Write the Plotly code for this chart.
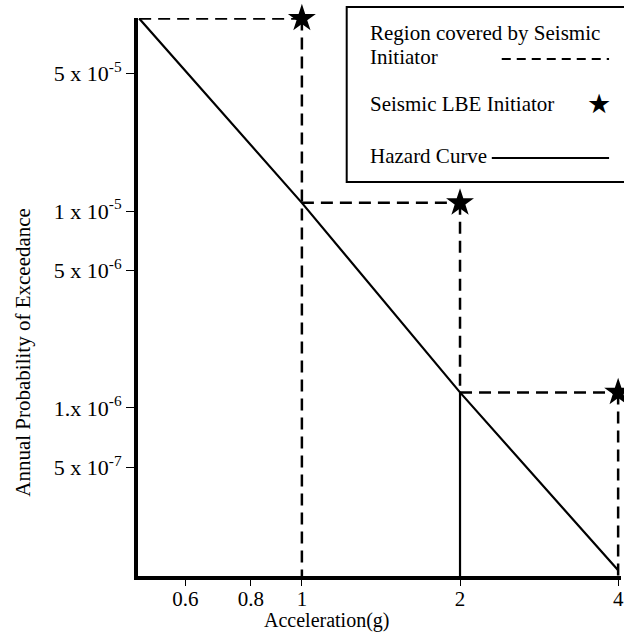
import plotly.graph_objects as go

# ---- data ----
hazard_accel = [0.49, 1, 2, 4]
hazard_prob = [9.5e-5, 1.1e-5, 1.2e-6, 1.5e-7]

lbe_accel = [1, 2, 4]
lbe_prob = [9.5e-5, 1.1e-5, 1.2e-6]

x_tickvals = [0.6, 0.8, 1, 2, 4]
x_ticktext = ["0.6", "0.8", "1", "2", "4"]
y_tickvals = [5e-5, 1e-5, 5e-6, 1e-6, 5e-7]
y_ticktext = ["5 x 10<sup>-5</sup>", "1 x 10<sup>-5</sup>", "5 x 10<sup>-6</sup>",
              "1.x 10<sup>-6</sup>", "5 x 10<sup>-7</sup>"]

x_range_log = [-0.312, 0.6075]
y_range_log = [-6.853, -4.020]
y_floor = 10 ** y_range_log[0]

FONT = "Liberation Serif"
DASH = "12px,7px"


def seg(xs, ys, dash=DASH, width=2.5, clip=True):
    return go.Scatter(x=xs, y=ys, mode="lines",
                      line=dict(color="black", width=width, dash=dash),
                      showlegend=False, cliponaxis=clip, hoverinfo="skip")


fig = go.Figure()

# Region covered by Seismic Initiator (dashed step boundaries)
fig.add_trace(seg([hazard_accel[0], lbe_accel[0]], [lbe_prob[0], lbe_prob[0]], clip=False))
fig.add_trace(seg([lbe_accel[0], lbe_accel[0]], [lbe_prob[0], y_floor]))
fig.add_trace(seg([lbe_accel[0], lbe_accel[1]], [lbe_prob[1], lbe_prob[1]]))
fig.add_trace(seg([lbe_accel[1], lbe_accel[1]], [lbe_prob[1], lbe_prob[2]]))
fig.add_trace(seg([lbe_accel[1], lbe_accel[1]], [lbe_prob[2], y_floor], dash="solid", width=2.2))
fig.add_trace(seg([lbe_accel[1], lbe_accel[2]], [lbe_prob[2], lbe_prob[2]]))
fig.add_trace(seg([lbe_accel[2], lbe_accel[2]], [lbe_prob[2], y_floor]))

# Hazard curve
fig.add_trace(go.Scatter(x=hazard_accel, y=hazard_prob, mode="lines",
                         line=dict(color="black", width=2.2), showlegend=False))

# LBE stars
fig.add_trace(go.Scatter(x=lbe_accel, y=lbe_prob, mode="markers",
                         marker=dict(symbol="star", size=21, color="black"),
                         showlegend=False, cliponaxis=False))


# ---- custom legend box ----
def px_x(p):
    return (p - 138) / 486.0


def px_y(p):
    return (576 - p) / 558.0


fig.add_shape(type="rect", xref="paper", yref="paper",
              x0=px_x(348), x1=px_x(640), y0=px_y(182), y1=px_y(7),
              line=dict(color="black", width=2), fillcolor="white", layer="above")
fig.add_shape(type="line", xref="paper", yref="paper",
              x0=px_x(504), x1=px_x(612), y0=px_y(59), y1=px_y(59),
              line=dict(color="black", width=2, dash="9px,6px"))
fig.add_shape(type="line", xref="paper", yref="paper",
              x0=px_x(494), x1=px_x(612), y0=px_y(158), y1=px_y(158),
              line=dict(color="black", width=2))

ann = [
    ("Region covered by Seismic", 369, 33),
    ("Initiator", 369, 57),
    ("Seismic LBE Initiator", 369, 104),
    ("Hazard Curve", 369, 156),
]
for txt, x, y in ann:
    fig.add_annotation(text=txt, xref="paper", yref="paper", x=px_x(x), y=px_y(y),
                       xanchor="left", yanchor="middle", showarrow=False,
                       font=dict(family=FONT, size=21, color="black"))
fig.add_annotation(text="★", xref="paper", yref="paper", x=px_x(602), y=px_y(103),
                   xanchor="center", yanchor="middle", showarrow=False,
                   font=dict(family="DejaVu Sans", size=27, color="black"))

# axis titles
fig.add_annotation(text="Acceleration(g)", xref="paper", yref="paper",
                   x=px_x(328), y=px_y(620), xanchor="center", yanchor="middle",
                   showarrow=False, font=dict(family=FONT, size=20, color="black"))
fig.add_annotation(text="Annual Probability of Exceedance", xref="paper", yref="paper",
                   x=px_x(22), y=px_y(352), xanchor="center", yanchor="middle",
                   textangle=-90, showarrow=False,
                   font=dict(family=FONT, size=21, color="black"))

fig.update_xaxes(type="log", range=x_range_log, tickvals=x_tickvals, ticktext=x_ticktext,
                 showgrid=False, zeroline=False, showline=True, linewidth=4,
                 linecolor="black", ticks="outside", ticklen=6, tickwidth=1,
                 tickcolor="black", ticklabelstandoff=-5, ticklabeloverflow="allow",
                 tickfont=dict(family=FONT, size=21, color="black"))
fig.update_yaxes(type="log", range=y_range_log, tickvals=y_tickvals, ticktext=y_ticktext,
                 showgrid=False, zeroline=False, showline=True, linewidth=4,
                 linecolor="black", ticks="outside", ticklen=8, tickwidth=1,
                 tickcolor="black", tickfont=dict(family=FONT, size=22, color="black"))

fig.update_layout(width=624, height=635, margin=dict(l=138, r=0, t=18, b=59),
                  plot_bgcolor="white", paper_bgcolor="white",
                  font=dict(family=FONT, color="black"))

fig.write_html("out.html", config={"displayModeBar": False},
               post_script="document.body.style.margin='0';"
                           "document.body.style.overflow='hidden';"
                           "document.documentElement.style.overflow='hidden';")
